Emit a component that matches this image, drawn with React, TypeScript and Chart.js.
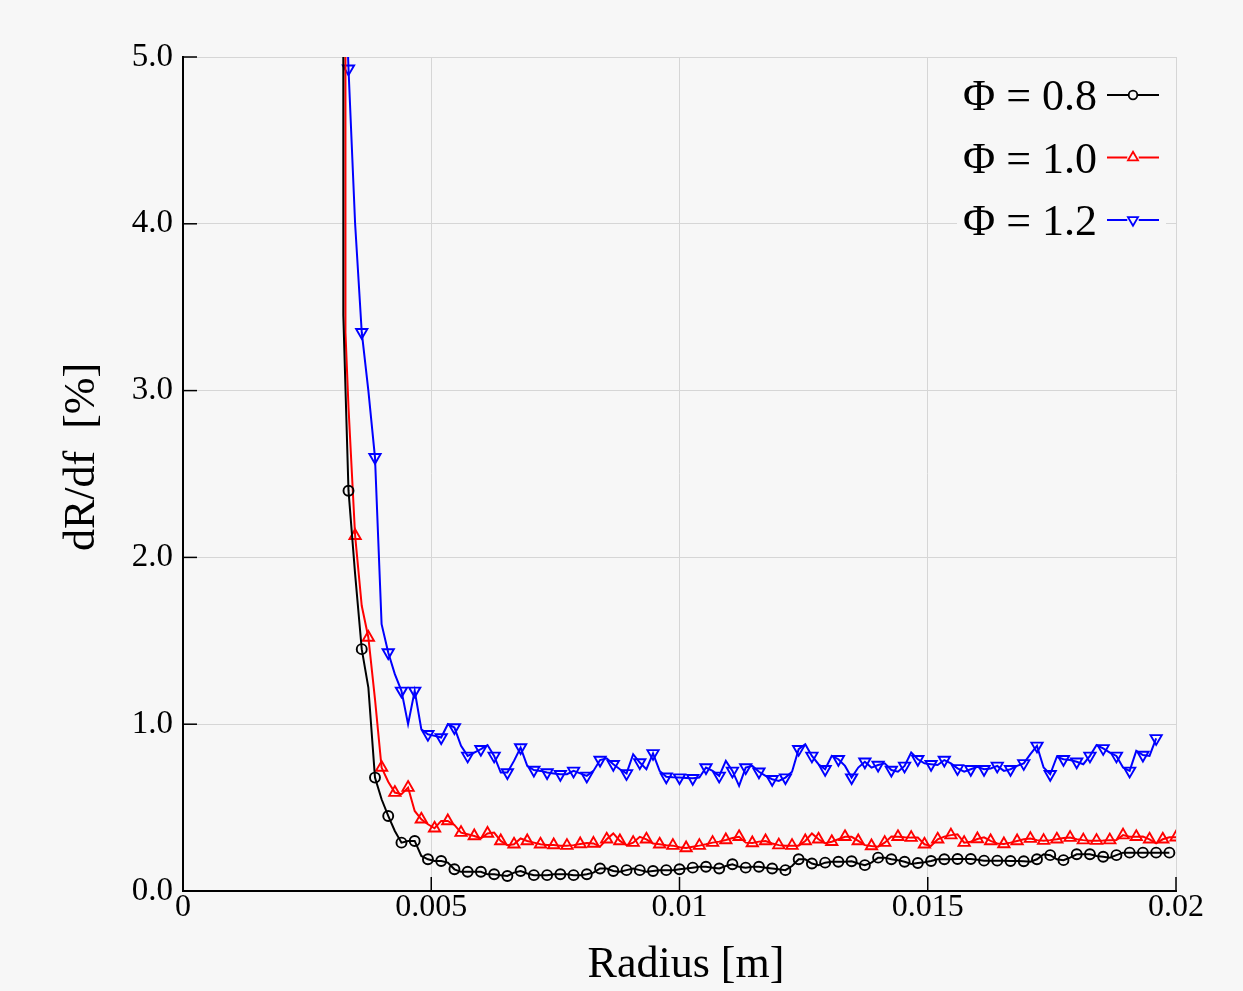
import { useEffect, useRef } from 'react';
import { Chart, registerables } from 'chart.js';

Chart.register(...registerables);

// ---------- data ----------
// uniform radius sampling grid (m), starting at 25 * 0.02 / 150
const GRID_START_INDEX = 25;
const GRID_STEP = 0.02 / 150;
const RADIUS = Array.from({ length: 126 }, (_, i) => (GRID_START_INDEX + i) * GRID_STEP);

const LABELS = ['Φ = 0.8', 'Φ = 1.0', 'Φ = 1.2'];

// steep leading part before the grid (values above 5 leave the plot)
const HEAD_R_08 = [0.003226, 0.003229];
const HEAD_08 = [20, 3.45];
const HEAD_R_10 = [0.003268, 0.003272];
const HEAD_10 = [20, 3.35];
const HEAD_R_12 = [0.003282, 0.00329];
const HEAD_12 = [20, 5.3];

const PHI_08 = [
  2.4, 1.9, 1.45, 1.22, 0.68, 0.55, 0.45, 0.36, 0.29, 0.3,
  0.3, 0.21, 0.19, 0.18, 0.18, 0.17, 0.13, 0.115, 0.115, 0.115,
  0.115, 0.1, 0.1, 0.095, 0.09, 0.11, 0.12, 0.105, 0.095, 0.095,
  0.095, 0.1, 0.1, 0.1, 0.095, 0.095, 0.1, 0.11, 0.135, 0.135,
  0.12, 0.115, 0.125, 0.135, 0.125, 0.115, 0.12, 0.125, 0.125, 0.125,
  0.13, 0.135, 0.14, 0.145, 0.145, 0.14, 0.135, 0.15, 0.16, 0.145,
  0.14, 0.145, 0.145, 0.14, 0.135, 0.13, 0.125, 0.15, 0.19, 0.19,
  0.165, 0.155, 0.17, 0.175, 0.175, 0.175, 0.178, 0.165, 0.155, 0.17,
  0.2, 0.2, 0.19, 0.185, 0.175, 0.162, 0.168, 0.172, 0.18, 0.19,
  0.19, 0.19, 0.192, 0.192, 0.192, 0.187, 0.182, 0.182, 0.182, 0.182,
  0.18, 0.18, 0.178, 0.176, 0.19, 0.22, 0.215, 0.19, 0.185, 0.2,
  0.22, 0.22, 0.22, 0.21, 0.205, 0.2, 0.215, 0.23, 0.23, 0.23,
  0.23, 0.23, 0.23, 0.23, 0.23,
];

const PHI_10 = [
  2.9, 2.13, 1.71, 1.52, 1.15, 0.74, 0.655, 0.59, 0.58, 0.62,
  0.48, 0.43, 0.4, 0.376, 0.42, 0.42, 0.396, 0.35, 0.34, 0.33,
  0.316, 0.345, 0.35, 0.3, 0.275, 0.28, 0.315, 0.3, 0.29, 0.28,
  0.276, 0.276, 0.272, 0.272, 0.275, 0.282, 0.288, 0.285, 0.266, 0.31,
  0.345, 0.3, 0.275, 0.29, 0.325, 0.31, 0.285, 0.28, 0.275, 0.272,
  0.262, 0.258, 0.265, 0.272, 0.28, 0.29, 0.296, 0.306, 0.318, 0.325,
  0.29, 0.288, 0.296, 0.3, 0.285, 0.275, 0.272, 0.272, 0.272, 0.3,
  0.345, 0.31, 0.286, 0.295, 0.31, 0.325, 0.325, 0.3, 0.275, 0.27,
  0.266, 0.29, 0.326, 0.325, 0.322, 0.32, 0.32, 0.28, 0.27, 0.31,
  0.326, 0.335, 0.34, 0.29, 0.295, 0.312, 0.322, 0.3, 0.285, 0.282,
  0.29, 0.3, 0.31, 0.314, 0.305, 0.302, 0.305, 0.31, 0.318, 0.32,
  0.31, 0.305, 0.302, 0.302, 0.303, 0.305, 0.306, 0.335, 0.325, 0.325,
  0.326, 0.31, 0.286, 0.31, 0.322, 0.322,
];

const PHI_12 = [
  4.93, 4.0, 3.35, 3.0, 2.6, 1.6, 1.43, 1.3, 1.2, 1.0,
  1.2, 0.97, 0.94, 0.93, 0.92, 1.0, 0.98, 0.87, 0.81, 0.83,
  0.85, 0.875, 0.81, 0.71, 0.71, 0.78, 0.86, 0.75, 0.725, 0.72,
  0.71, 0.705, 0.7, 0.7, 0.72, 0.705, 0.69, 0.72, 0.785, 0.795,
  0.76, 0.73, 0.705, 0.82, 0.77, 0.73, 0.825, 0.72, 0.685, 0.682,
  0.68, 0.678, 0.676, 0.68, 0.74, 0.72, 0.69, 0.78, 0.72, 0.63,
  0.74, 0.75, 0.715, 0.69, 0.67, 0.66, 0.68, 0.715, 0.85, 0.88,
  0.81, 0.76, 0.73, 0.81, 0.79, 0.75, 0.68, 0.74, 0.775, 0.74,
  0.755, 0.765, 0.725, 0.715, 0.75, 0.83, 0.79, 0.765, 0.76, 0.755,
  0.785, 0.765, 0.735, 0.715, 0.73, 0.745, 0.73, 0.735, 0.75, 0.72,
  0.73, 0.75, 0.765, 0.82, 0.87, 0.74, 0.7, 0.805, 0.79, 0.785,
  0.775, 0.76, 0.81, 0.875, 0.855, 0.83, 0.81, 0.74, 0.72, 0.84,
  0.815, 0.81, 0.915,
];

const X_TICKS = [0, 0.005, 0.01, 0.015, 0.02];
const Y_TICKS = [0, 1, 2, 3, 4, 5];

// ---------- styling ----------
const BG = '#f7f7f7';
const GRID = '#d6d6d6';
const FONT = "'Liberation Serif', 'Times New Roman', serif";
const COLORS = ['#000000', '#ff0000', '#0000ff'];
const STYLES = ['circle', 'triangle', 'triangle'];
const ROTATIONS = [0, 0, 180];
const RADII = [5, 6.5, 6.5];
const MARKER_PHASE = [0, 1, 0];

function buildPoints(headR: number[], headY: number[], ys: number[]) {
  const pts = headR.map((r, i) => ({ x: r, y: headY[i] }));
  ys.forEach((v, i) => pts.push({ x: RADIUS[i], y: v }));
  return pts;
}

function drawMarker(ctx: CanvasRenderingContext2D, style: string, rot: number, x: number, y: number, r: number) {
  ctx.beginPath();
  if (style === 'circle') {
    ctx.arc(x, y, r, 0, Math.PI * 2);
  } else {
    let a = (rot * Math.PI) / 180;
    ctx.moveTo(x + Math.sin(a) * r, y - Math.cos(a) * r);
    a += (2 * Math.PI) / 3;
    ctx.lineTo(x + Math.sin(a) * r, y - Math.cos(a) * r);
    a += (2 * Math.PI) / 3;
    ctx.lineTo(x + Math.sin(a) * r, y - Math.cos(a) * r);
    ctx.closePath();
  }
  ctx.stroke();
}

const overlayPlugin = {
  id: 'overlay',
  beforeDraw(chart: any) {
    const ctx = chart.ctx;
    ctx.save();
    ctx.fillStyle = BG;
    ctx.fillRect(0, 0, chart.width, chart.height);
    ctx.restore();
  },
  afterDraw(chart: any) {
    const { ctx, chartArea: a, scales } = chart;
    ctx.save();
    // inward tick marks
    ctx.strokeStyle = '#000';
    ctx.lineWidth = 1.5;
    Y_TICKS.forEach((v) => {
      const p = scales.y.getPixelForValue(v);
      ctx.beginPath();
      ctx.moveTo(a.left, p);
      ctx.lineTo(a.left + 14, p);
      ctx.stroke();
    });
    X_TICKS.forEach((v) => {
      const p = scales.x.getPixelForValue(v);
      ctx.beginPath();
      ctx.moveTo(p, a.bottom);
      ctx.lineTo(p, a.bottom - 14);
      ctx.stroke();
    });

    // axis titles
    ctx.fillStyle = '#000';
    ctx.font = `44px ${FONT}`;
    ctx.textAlign = 'center';
    ctx.textBaseline = 'alphabetic';
    ctx.fillText('Radius [m]', 686, 977);
    ctx.save();
    ctx.translate(94, 457);
    ctx.rotate(-Math.PI / 2);
    ctx.fillText('dR/df  [%]', 0, 0);
    ctx.restore();

    // legend
    ctx.fillStyle = BG;
    ctx.fillRect(957, 66, 209, 186);
    const baselines = [110, 172.5, 235];
    chart.data.datasets.forEach((ds: any, i: number) => {
      const by = baselines[i];
      const my = by - 15;
      ctx.fillStyle = '#000';
      ctx.font = `44px ${FONT}`;
      ctx.textAlign = 'right';
      ctx.textBaseline = 'alphabetic';
      ctx.fillText(ds.label, 1097, by);
      ctx.strokeStyle = ds.borderColor;
      ctx.lineWidth = 2;
      ctx.beginPath();
      ctx.moveTo(1107, my);
      ctx.lineTo(1159, my);
      ctx.stroke();
      ctx.fillStyle = BG;
      const r = i === 0 ? 4.3 : 5.8;
      ctx.beginPath();
      ctx.arc(1133, my, r, 0, Math.PI * 2);
      ctx.fill();
      ctx.lineWidth = 1.8;
      drawMarker(ctx, STYLES[i], ROTATIONS[i], 1133, my, r);
    });
    ctx.restore();
  },
};

export default function App() {
  const ref = useRef<HTMLCanvasElement>(null);

  useEffect(() => {
    document.body.style.margin = '0';
    document.body.style.background = BG;
    const series = [
      buildPoints(HEAD_R_08, HEAD_08, PHI_08),
      buildPoints(HEAD_R_10, HEAD_10, PHI_10),
      buildPoints(HEAD_R_12, HEAD_12, PHI_12),
    ];
    const heads = [HEAD_R_08.length, HEAD_R_10.length, HEAD_R_12.length];
    const datasets = series.map((pts, i) => ({
      label: LABELS[i],
      data: pts,
      borderColor: COLORS[i],
      borderWidth: 2,
      pointStyle: STYLES[i],
      pointRotation: ROTATIONS[i],
      pointBorderColor: COLORS[i],
      pointBackgroundColor: 'rgba(0,0,0,0)',
      pointBorderWidth: 1.9,
      pointRadius: (c: any) => {
        const k = c.dataIndex - heads[i];
        return k >= 0 && k % 2 === MARKER_PHASE[i] ? RADII[i] : 0;
      },
      pointHoverRadius: 0,
      tension: 0,
      fill: false,
    }));

    const chart = new Chart(ref.current as HTMLCanvasElement, {
      type: 'line',
      data: { datasets },
      plugins: [overlayPlugin],
      options: {
        animation: false,
        responsive: false,
        devicePixelRatio: 1,
        events: [],
        layout: { padding: { top: 57, right: 67, left: 0, bottom: 0 } },
        plugins: { legend: { display: false }, tooltip: { enabled: false }, title: { display: false } },
        scales: {
          x: {
            type: 'linear',
            min: 0,
            max: 0.02,
            afterFit: (s: any) => { s.height = 100; },
            afterBuildTicks: (s: any) => { s.ticks = X_TICKS.map((v) => ({ value: v })); },
            ticks: {
              color: '#000',
              font: { family: FONT, size: 32, lineHeight: 1 },
              padding: 1,
              maxRotation: 0,
              autoSkip: false,
              callback: (v: any) => String(+Number(v).toFixed(3)),
            },
            grid: { color: GRID, lineWidth: 1, drawTicks: false },
            border: { color: '#000', width: 2 },
          },
          y: {
            type: 'linear',
            min: 0,
            max: 5,
            afterFit: (s: any) => { s.width = 183; },
            afterBuildTicks: (s: any) => { s.ticks = Y_TICKS.map((v) => ({ value: v })); },
            ticks: {
              color: '#000',
              font: { family: FONT, size: 33 },
              padding: 10,
              callback: (v: any) => Number(v).toFixed(1),
            },
            grid: { color: GRID, lineWidth: 1, drawTicks: false },
            border: { color: '#000', width: 2 },
          },
        },
      } as any,
    });
    return () => chart.destroy();
  }, []);

  return (
    <canvas
      ref={ref}
      width={1243}
      height={991}
      style={{ display: 'block', width: 1243, height: 991 }}
    />
  );
}
